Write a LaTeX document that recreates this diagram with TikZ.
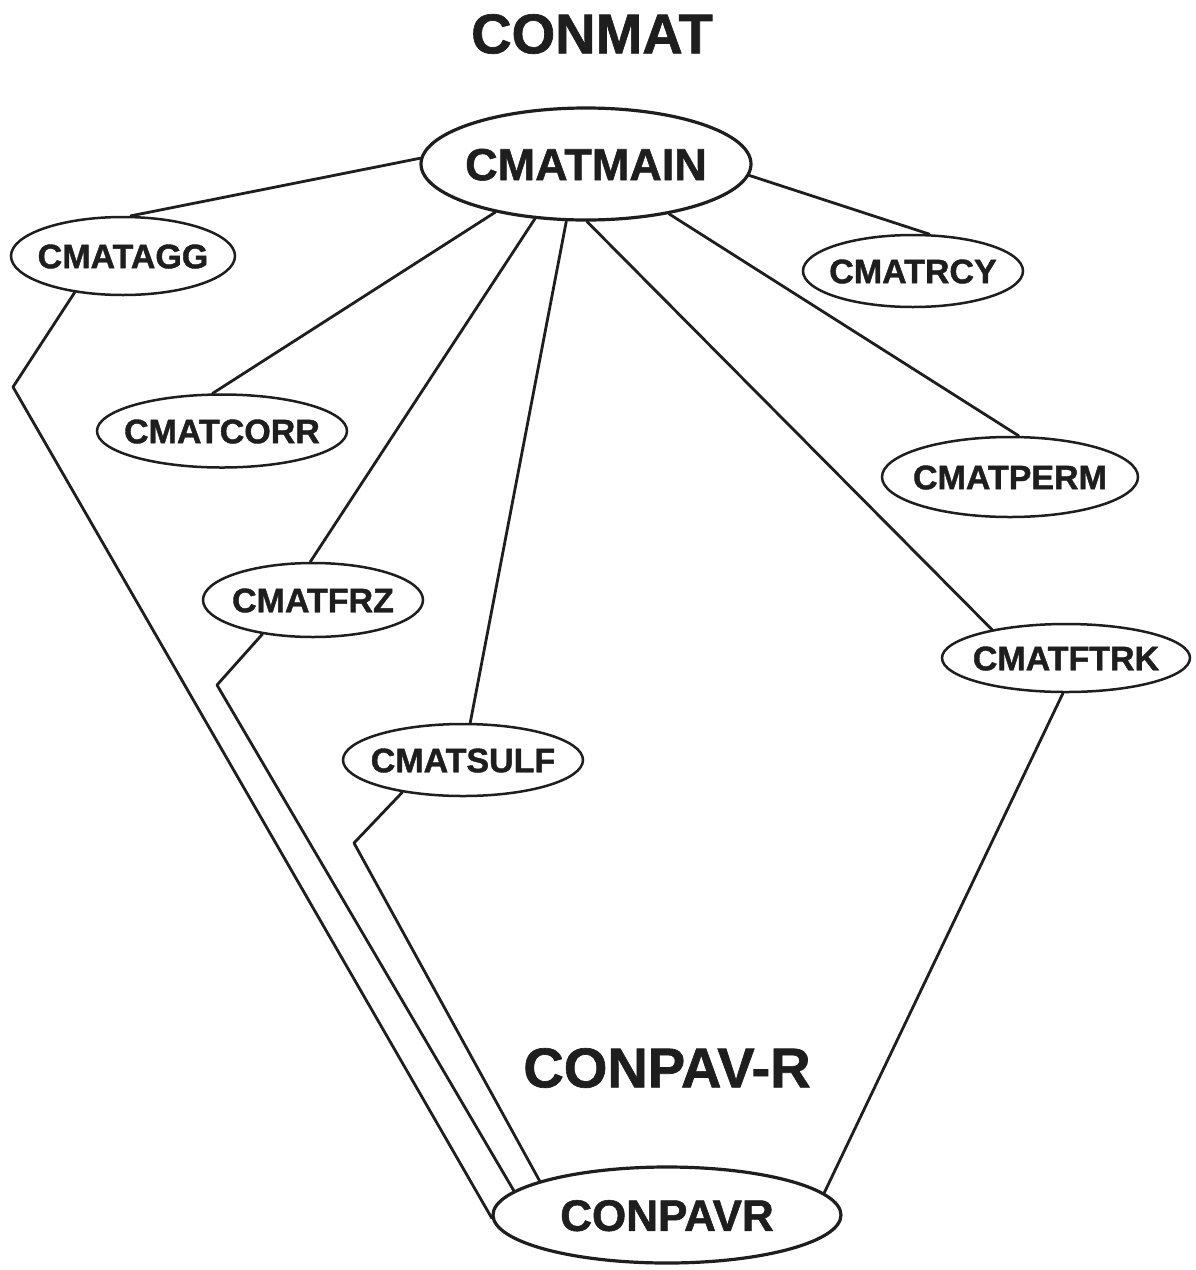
\documentclass[tikz,border=0pt]{standalone}
\usepackage{fontspec}
\setmainfont{Liberation Sans}[BoldFeatures={FakeBold=1.2}]
\usetikzlibrary{shapes.geometric}
\definecolor{ink}{HTML}{1E1E1E}
% centre a label on the node without letting it size the ellipse
\newcommand{\celltext}[1]{\makebox[0pt]{\raisebox{-.36em}[0pt][0pt]{#1}}}

\begin{document}
\begin{tikzpicture}[x=1pt,y=-1pt,
  module/.style={ellipse, draw=ink, line width=2.5pt, inner sep=0pt, text=ink,
                 font=\bfseries\fontsize{34}{40}\selectfont},
  bigmodule/.style={module, line width=3.2pt},
  link/.style={draw=ink, line width=2.8pt, line join=round, line cap=round},
  heading/.style={text=ink, inner sep=0pt, font=\bfseries\fontsize{56}{60}\selectfont}]

\fill[white] (0,0) rectangle (1195,1270);
\useasboundingbox (0,0) rectangle (1195,1270);

% titles
\node[heading] (conmat) at (592,34) {CONMAT};
\node[heading] (conpavlabel) at (667,1068) {CONPAV-R};

% modules
\node[bigmodule, minimum width=330pt, minimum height=112pt, font=\bfseries\fontsize{45}{50}\selectfont]
  (main) at (586,164) {\celltext{CMATMAIN}};
\node[module, minimum width=224pt, minimum height=78pt] (agg)  at (123,256)  {\celltext{CMATAGG}};
\node[module, minimum width=220pt, minimum height=72pt] (rcy)  at (913,271)  {\celltext{CMATRCY}};
\node[module, minimum width=250pt, minimum height=73pt] (corr) at (222,431)  {\celltext{CMATCORR}};
\node[module, minimum width=256pt, minimum height=80pt] (perm) at (1010,477) {\celltext{CMATPERM}};
\node[module, minimum width=220pt, minimum height=74pt] (frz)  at (313,600)  {\celltext{CMATFRZ}};
\node[module, minimum width=248pt, minimum height=68pt] (ftrk) at (1066,658) {\celltext{CMATFTRK}};
\node[module, minimum width=240pt, minimum height=72pt] (sulf) at (463,760)  {\celltext{CMATSULF}};
\node[bigmodule, minimum width=348pt, minimum height=96pt, font=\bfseries\fontsize{44}{50}\selectfont]
  (pavr) at (667,1215) {\celltext{CONPAVR}};

% bend points of the routed links
\coordinate (aggbend)  at (13,387);
\coordinate (frzbend)  at (217,685);
\coordinate (sulfbend) at (354,843);

% calls from the main module
\draw[link] (main.178.6) -- (agg.79.6);
\draw[link] (main.208.9) -- (corr.104);
\draw[link] (main.227)   -- (frz.94.6);
\draw[link] (main.251.3) -- (sulf.79.3);
\draw[link] (main.271)   -- (ftrk.159.8);
\draw[link] (main.329.8) -- (perm.78.7);
\draw[link] (main.-4.8)  -- (rcy.66);

% links down to the pavement module
\draw[link] (agg.217)   -- (aggbend)  -- (pavr.181);
\draw[link] (frz.214)   -- (frzbend)  -- (pavr.171.9);
\draw[link] (sulf.208.4) -- (sulfbend) -- (pavr.165.3);
\draw[link] (ftrk.265.4) -- (pavr.8.2);
\end{tikzpicture}
\end{document}
